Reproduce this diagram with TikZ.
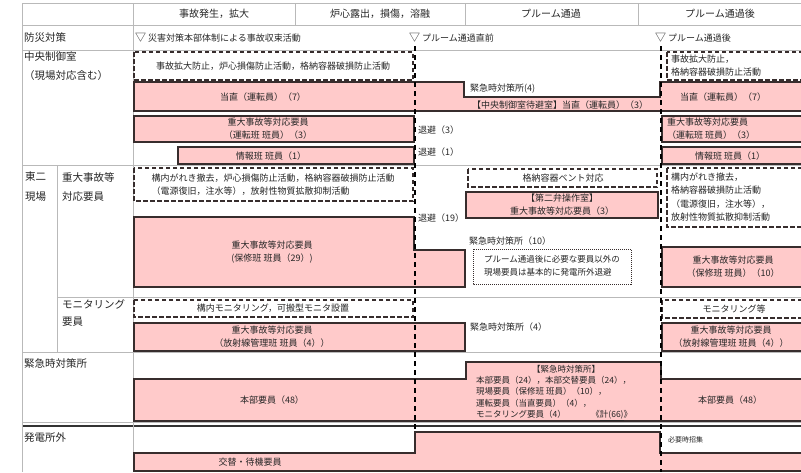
\documentclass[tikz,border=0pt]{standalone}
\usepackage{fontspec}
\setmainfont{Noto Sans CJK JP}
\definecolor{rosa}{RGB}{255,202,202}
\definecolor{rahmen}{RGB}{55,45,45}
\tikzset{
  gridline/.style={draw=gray!55, line width=0.8pt},
  pinkbox/.style={fill=rosa, draw=rahmen, line width=1.5pt},
  dashbox/.style={draw=rahmen, line width=1.4pt, dash pattern=on 4.5pt off 2.5pt},
  dotbox/.style={draw=rahmen, line width=1pt, dash pattern=on 1pt off 1pt},
  vdash/.style={draw=black, line width=1.6pt, dash pattern=on 5pt off 4pt},
  lbl/.style={anchor=west, inner sep=0pt, font=\fontsize{10.5}{15}\selectfont, text=black!85},
  txt/.style={inner sep=0pt, align=center, font=\fontsize{9}{13}\selectfont, text=black!85},
}
\begin{document}
\begin{tikzpicture}[x=1pt, y=-1pt]
  \clip (0,0) rectangle (801,472);
  \fill[white] (0,0) rectangle (801,472);
  \draw[gridline] (22,3) -- (801,3);
  \draw[gridline] (22,25) -- (801,25);
  \draw[gridline] (22,50) -- (801,50);
  \draw[gridline] (22,165) -- (801,165);
  \draw[gridline] (57,297) -- (801,297);
  \draw[gridline] (22,352) -- (801,352);
  \draw[gridline] (22,422) -- (801,422);
  \draw[draw=gray!40!black, line width=2pt] (22,426) -- (801,426);
  \draw[gridline] (22,3) -- (22,472);
  \draw[gridline] (133,3) -- (133,472);
  \draw[gridline] (57,165) -- (57,352);
  \foreach \xx in {295,465,638} \draw[gridline] (\xx,3) -- (\xx,25);

  \node[txt, font=\fontsize{10}{12}\selectfont] (h1) at (214,14) {事故発生，拡大};
  \node[txt, font=\fontsize{10}{12}\selectfont] (h2) at (380,14) {炉心露出，損傷，溶融};
  \node[txt, font=\fontsize{10}{12}\selectfont] (h3) at (551,14) {プルーム通過};
  \node[txt, font=\fontsize{10}{12}\selectfont] (h4) at (720,14) {プルーム通過後};

  \node[lbl] (bosai) at (24,38) {防災対策};
  \node[lbl] (chuo) at (24,57) {中央制御室};
  \node[lbl] (chuo2) at (24,76) {（現場対応含む）};
  \node[lbl] (toni) at (25,177) {東二};
  \node[lbl] (toni2) at (25,197) {現場};
  \node[lbl] (juudai) at (62,177) {重大事故等};
  \node[lbl] (juudai2) at (62,197) {対応要員};
  \node[lbl] (moni) at (62,304) {モニタリング};
  \node[lbl] (moni2) at (62,322) {要員};
  \node[lbl] (kinkyu) at (24,363) {緊急時対策所};
  \node[lbl] (gai) at (24,438) {発電所外};

  \node[lbl, font=\fontsize{9}{12}\selectfont] (mk1) at (135,38) {{\fontsize{11}{12}\selectfont ▽} 災害対策本部体制による事故収束活動};
  \node[lbl, font=\fontsize{9}{12}\selectfont] (mk2) at (409,38) {{\fontsize{11}{12}\selectfont ▽} プルーム通過直前};
  \node[lbl, font=\fontsize{9}{12}\selectfont] (mk3) at (655,38) {{\fontsize{11}{12}\selectfont ▽} プルーム通過後};

  \filldraw[pinkbox] (134,82) -- (464,82) -- (464,97) -- (660,97) -- (660,82) -- (805,82) -- (805,111) -- (134,111) -- cycle;
  \filldraw[pinkbox] (134,116) rectangle (414,142);
  \filldraw[pinkbox] (662,116) rectangle (805,142);
  \filldraw[pinkbox] (178,147) rectangle (414,164);
  \filldraw[pinkbox] (662,147) rectangle (805,164);
  \filldraw[pinkbox] (134,217) -- (414,217) -- (414,250) -- (465,250) -- (465,287) -- (134,287) -- cycle;
  \filldraw[pinkbox] (466,192) rectangle (658,218);
  \filldraw[pinkbox] (662,247) rectangle (805,287);
  \filldraw[pinkbox] (134,323) rectangle (465,351);
  \filldraw[pinkbox] (662,323) rectangle (805,351);
  \filldraw[pinkbox] (134,379) -- (466,379) -- (466,362) -- (661,362) -- (661,379) -- (805,379) -- (805,421) -- (134,421) -- cycle;
  \filldraw[pinkbox] (134,453) -- (415,453) -- (415,432) -- (660,432) -- (660,453) -- (805,453) -- (805,471) -- (134,471) -- cycle;

  \draw[dashbox] (134,52) rectangle (413,80);
  \draw[dashbox] (667,52) rectangle (805,80);
  \draw[dashbox] (134,168) rectangle (413,201);
  \draw[dashbox] (468,169) rectangle (657,187);
  \draw[dashbox] (667,168) rectangle (805,227);
  \draw[dotbox] (473,249) rectangle (631,284);
  \draw[dashbox] (134,300) rectangle (413,317);
  \draw[dashbox] (662,300) rectangle (805,318);

  \coordinate (v1) at (415,46);
  \coordinate (v1e) at (415,432);
  \coordinate (v2) at (661,46);
  \coordinate (v2e) at (661,472);
  \draw[vdash] (v1) -- (v1e);
  \draw[vdash] (v2) -- (v2e);

  \node[txt] (a1) at (273,66) {事故拡大防止，炉心損傷防止活動，格納容器破損防止活動};
  \node[txt, align=left, anchor=west] (a2) at (671,66) {事故拡大防止，\\格納容器破損防止活動};
  \node[txt] (t1) at (263,97) {当直（運転員）（7）};
  \node[txt, anchor=west] (t2) at (470,89) {緊急時対策所(4)};
  \node[txt] (t3) at (560,105) {【中央制御室待避室】当直（運転員）（3）};
  \node[txt] (t4) at (723,97) {当直（運転員）（7）};
  \node[txt] (u1) at (268,129) {重大事故等対応要員\\（運転班 班員）（3）};
  \node[txt, align=left, anchor=west] (u2) at (667,129) {重大事故等対応要員\\（運転班 班員）（3）};
  \node[txt, anchor=west] (r1) at (418,130) {退避（3）};
  \node[txt] (j1) at (271,156) {情報班 班員（1）};
  \node[txt] (j2) at (730,156) {情報班 班員（1）};
  \node[txt, anchor=west] (r2) at (418,152) {退避（1）};

  \node[txt, align=left] (g1) at (273,185) {構内がれき撤去，炉心損傷防止活動，格納容器破損防止活動\\（電源復旧，注水等），放射性物質拡散抑制活動};
  \node[txt] (g2) at (272,252) {重大事故等対応要員\\(保修班 班員（29）)};
  \node[txt, anchor=west] (r3) at (418,218) {退避（19）};
  \node[txt] (v3) at (563,178) {格納容器ベント対応};
  \node[txt] (b4) at (562,205) {【第二弁操作室】\\重大事故等対応要員（3）};
  \node[txt, anchor=west] (k10) at (469,241) {緊急時対策所（10）};
  \node[txt, align=left, font=\fontsize{8.5}{13}\selectfont] (pl) at (552,266) {プルーム通過後に必要な要員以外の\\現場要員は基本的に発電所外退避};
  \node[txt, align=left, anchor=west, font=\fontsize{9}{13.5}\selectfont] (g3) at (671,197) {構内がれき撤去，\\格納容器破損防止活動\\（電源復旧，注水等），\\放射性物質拡散抑制活動};
  \node[txt] (g4) at (733,267) {重大事故等対応要員\\（保修班 班員）（10）};

  \node[txt] (m1) at (273,308) {構内モニタリング，可搬型モニタ設置};
  \node[txt] (m2) at (272,337) {重大事故等対応要員\\（放射線管理班 班員（4））};
  \node[txt, anchor=west] (k4) at (470,327) {緊急時対策所（4）};
  \node[txt] (m3) at (734,309) {モニタリング等};
  \node[txt] (m4) at (731,337) {重大事故等対応要員\\（放射線管理班 班員（4））};

  \node[txt] (h48) at (272,400) {本部要員（48）};
  \node[txt, font=\fontsize{8.5}{12}\selectfont] (ktitle) at (566,369) {【緊急時対策所】};
  \node[txt, align=left, anchor=west, font=\fontsize{8.5}{11.5}\selectfont] (klist) at (476,398.5) {本部要員（24），本部交替要員（24），\\現場要員（保修班 班員）（10），\\運転要員（当直要員）（4），\\モニタリング要員（4）\hspace{3em}《\underline{計(66)}》};
  \node[txt] (h48b) at (730,400) {本部要員（48）};

  \node[txt] (kotai) at (250,462) {交替・待機要員};
  \node[txt, anchor=west, font=\fontsize{7}{9}\selectfont] (shoshu) at (668,440) {必要時招集};
\end{tikzpicture}
\end{document}
